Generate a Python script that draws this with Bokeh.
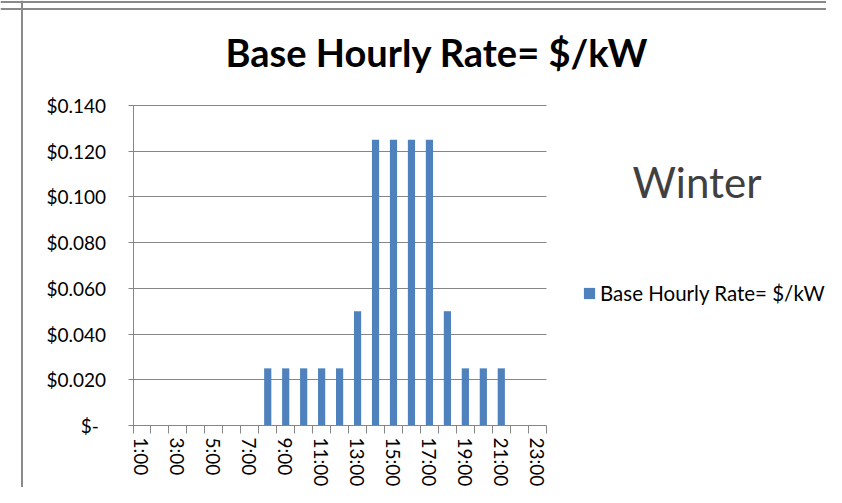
from bokeh.plotting import figure
from bokeh.models import (Range1d, FixedTicker, Label, Legend, LegendItem, LinearAxis,
                          NumeralTickFormatter, ColumnDataSource, Grid, Span)
from bokeh.embed import file_html
from bokeh.resources import INLINE

# ---- data ----
hours = [1, 2, 3, 4, 5, 6, 7, 8, 9, 10, 11, 12, 13, 14, 15, 16, 17, 18, 19, 20, 21, 22, 23]
hour_labels = ["1:00", "2:00", "3:00", "4:00", "5:00", "6:00", "7:00", "8:00", "9:00",
               "10:00", "11:00", "12:00", "13:00", "14:00", "15:00", "16:00", "17:00",
               "18:00", "19:00", "20:00", "21:00", "22:00", "23:00"]
rate = [0, 0, 0, 0, 0, 0, 0, 0.025, 0.025, 0.025, 0.025, 0.025, 0.05,
        0.125, 0.125, 0.125, 0.125, 0.05, 0.025, 0.025, 0.025, 0, 0]
y_ticks = [0, 0.02, 0.04, 0.06, 0.08, 0.10, 0.12, 0.14]
series_name = "Base Hourly Rate= $/kW"
title_text = "Base Hourly Rate= $/kW"
season = "Winter"

FONT = "Lato"
BAR = "#4F81BD"
AXIS = "#868686"
BORDER = "#8a8a8a"

W, H = 826, 487
# plot area inside the canvas (pixels): left, right, top, bottom
PL, PR, PT, PB = 132.5, 545.7, 105, 425

x0, x1 = hours[0] - 0.5, hours[-1] + 0.5
y0, y1 = y_ticks[0], y_ticks[-1]
xs = (PR - PL) / (x1 - x0)
ys = (PB - PT) / (y1 - y0)

p = figure(width=W, height=H, output_backend="svg", toolbar_location=None,
           x_range=Range1d(x0 - PL / xs, x1 + (W - PR) / xs),
           y_range=Range1d(y0 - (H - PB) / ys, y1 + PT / ys),
           x_axis_type=None, y_axis_type=None,
           min_border=0, outline_line_color=None)

src = ColumnDataSource(dict(hour=hours, rate=rate))
r = p.vbar(x="hour", top="rate", width=0.4, source=src, fill_color=BAR, line_color=None)

# gridlines
grid = Grid(dimension=1, ticker=FixedTicker(ticks=y_ticks[1:]), grid_line_color=AXIS)
if "cross_bounds" in Grid.properties():
    grid.cross_bounds = (x0, x1)
    p.add_layout(grid)
else:
    p.segment(x0=[x0] * (len(y_ticks) - 1), x1=[x1] * (len(y_ticks) - 1),
              y0=y_ticks[1:], y1=y_ticks[1:], line_color=AXIS, line_width=1)

# y axis
yaxis = LinearAxis(fixed_location=x0, bounds=(y0, y1), ticker=FixedTicker(ticks=y_ticks),
                   formatter=NumeralTickFormatter(format="$0.000"))
yaxis.major_label_overrides = {0: "$-\u00a0\u2009"}
yaxis.axis_line_color = AXIS
yaxis.major_tick_line_color = AXIS
yaxis.major_tick_out = 5
yaxis.major_tick_in = 5
yaxis.minor_tick_line_color = None
yaxis.major_label_standoff = 22
yaxis.major_label_text_font = FONT
yaxis.major_label_text_font_size = "19px"
yaxis.major_label_text_color = "#000000"
p.add_layout(yaxis, "left")

# x axis: labels at odd hours, ticks at category boundaries
odd = hours[::2]
xaxis = LinearAxis(fixed_location=y0, bounds=(x0, x1),
                   ticker=FixedTicker(ticks=odd, minor_ticks=[h - 0.5 for h in hours] + [x1]))
xaxis.major_label_overrides = {h: lab for h, lab in zip(hours, hour_labels) if h in odd}
xaxis.axis_line_color = AXIS
xaxis.major_tick_line_color = None
xaxis.major_tick_out = 8
xaxis.major_tick_in = 0
xaxis.minor_tick_line_color = AXIS
xaxis.minor_tick_out = 8
xaxis.minor_tick_in = 0
xaxis.major_label_orientation = "vertical"
xaxis.major_label_standoff = 4
xaxis.major_label_text_font = FONT
xaxis.major_label_text_font_size = "19px"
xaxis.major_label_text_color = "#000000"
p.add_layout(xaxis, "below")

# chart borders
p.add_layout(Span(location=21.5, location_units="screen", dimension="height",
                  line_color=BORDER, line_width=2))
p.add_layout(Span(location=H - 8.5, location_units="screen", dimension="width",
                  line_color=BORDER, line_width=2))
p.add_layout(Span(location=H - 1.5, location_units="screen", dimension="width",
                  line_color=BORDER, line_width=2))

# title, season label and legend (screen units from bottom-left of canvas)
p.add_layout(Label(x=436.5, y=436, x_units="screen", y_units="screen", text=title_text,
                   text_font=FONT, text_font_size="38px", text_font_style="bold",
                   text_align="center", text_baseline="alphabetic", text_color="#000000"))
p.add_layout(Label(x=632, y=306, x_units="screen", y_units="screen", text=season,
                   text_font=FONT, text_font_size="42px", text_align="left",
                   text_baseline="alphabetic", text_color="#404040"))

legend = Legend(items=[LegendItem(label=series_name, renderers=[r])],
                location=(582, 182), padding=0, margin=0, spacing=0,
                glyph_width=14, glyph_height=14, label_standoff=4,
                label_text_font=FONT, label_text_font_size="20.5px",
                label_text_color="#000000", border_line_color=None,
                background_fill_alpha=0)
p.add_layout(legend)

open("out.html", "w").write(file_html(p, INLINE))
